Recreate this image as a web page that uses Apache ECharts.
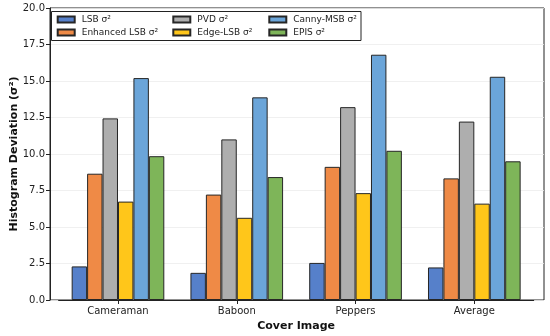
<!DOCTYPE html>
<html>
<head>
<meta charset="utf-8">
<script src="https://cdn.jsdelivr.net/npm/echarts@6/dist/echarts.min.js"></script>
<style>
html,body{margin:0;padding:0;background:#fff;}
#chart{width:550px;height:336px;}
</style>
</head>
<body>
<div id="chart"></div>
<script>
// ---- data ----
var categories = ['Cameraman', 'Baboon', 'Peppers', 'Average'];
var seriesNames = ['LSB σ²', 'Enhanced LSB σ²', 'PVD σ²', 'Edge-LSB σ²', 'Canny-MSB σ²', 'EPIS σ²'];
var lsb      = [2.30, 1.86, 2.54, 2.23];
var enhanced = [8.65, 7.22, 9.12, 8.33];
var pvd      = [12.44, 11.00, 13.21, 12.22];
var edgeLsb  = [6.74, 5.63, 7.32, 6.60];
var cannyMsb = [15.20, 13.88, 16.80, 15.29];
var epis     = [9.85, 8.42, 10.22, 9.50];
var yTicks = [0, 2.5, 5, 7.5, 10, 12.5, 15, 17.5, 20];

var seriesData = [lsb, enhanced, pvd, edgeLsb, cannyMsb, epis];
var colors = ['#5680ca', '#ef8a46', '#aeaeae', '#ffc61a', '#6ba5d9', '#7eb559'];

var font = 'DejaVu Sans';
var chart = echarts.init(document.getElementById('chart'), null, {renderer: 'canvas'});

var series = seriesNames.map(function (name, i) {
  return {
    name: name,
    type: 'bar',
    xAxisIndex: 0,
    yAxisIndex: 0,
    data: seriesData[i],
    barWidth: '13%',
    barGap: '0%',
    itemStyle: {color: colors[i], borderColor: '#262626', borderWidth: 1},
    emphasis: {disabled: true},
    animation: false
  };
});

function legendFor(names, left) {
  return {
    data: names,
    orient: 'vertical',
    left: left,
    top: 14,
    padding: 0,
    itemWidth: 17,
    itemHeight: 6,
    itemGap: 2,
    icon: 'rect',
    selectedMode: false,
    textStyle: {fontFamily: font, fontSize: 9, color: '#222', lineHeight: 11, padding: [0, 0, 0, 2]}
  };
}

chart.setOption({
  animation: false,
  backgroundColor: '#fff',
  grid: [
    {left: 58.6, right: 16.3, top: 8, bottom: 36, outerBoundsMode: 'none', containLabel: false},
    {left: 50, right: 6, top: 8, bottom: 36, outerBoundsMode: 'none', containLabel: false,
     show: true, borderColor: '#222', borderWidth: 1, backgroundColor: 'transparent'}
  ],
  xAxis: [
    {
      type: 'category', gridIndex: 0, data: categories, boundaryGap: true,
      axisLine: {show: true, lineStyle: {color: '#222', width: 1}},
      axisTick: {show: true, alignWithLabel: true, length: 4, lineStyle: {color: '#222'}},
      axisLabel: {fontFamily: font, fontSize: 10, color: '#222', margin: 6},
      name: 'Cover Image', nameLocation: 'middle', nameGap: 21, nameMoveOverlap: false,
      nameTextStyle: {fontFamily: font, fontSize: 11, fontWeight: 'bold', color: '#111'}
    },
    {
      type: 'value', gridIndex: 1, min: 0, max: 1,
      axisLine: {show: false}, axisTick: {show: false}, axisLabel: {show: false}, splitLine: {show: false}
    }
  ],
  yAxis: [
    {
      type: 'value', gridIndex: 0, min: 0, max: 20, interval: 2.5,
      axisLine: {show: false}, axisTick: {show: false}, axisLabel: {show: false}, splitLine: {show: false}
    },
    {
      type: 'value', gridIndex: 1, min: 0, max: 20, interval: 2.5, z: 0,
      axisLine: {show: true, lineStyle: {color: '#222'}},
      axisTick: {show: true, length: 4, lineStyle: {color: '#222'}},
      axisLabel: {fontFamily: font, fontSize: 10, color: '#222', margin: 5,
        formatter: function (v) { return yTicks.indexOf(v) >= 0 ? v.toFixed(1) : ''; }},
      splitLine: {show: true, lineStyle: {color: '#ececec', width: 0.8}},
      name: 'Histogram Deviation (σ²)', nameLocation: 'middle', nameRotate: 90, nameGap: 30, nameMoveOverlap: false,
      nameTextStyle: {fontFamily: font, fontSize: 11, fontWeight: 'bold', color: '#111'}
    }
  ],
  legend: [
    legendFor([seriesNames[0], seriesNames[1]], 56.7),
    legendFor([seriesNames[2], seriesNames[3]], 172.3),
    legendFor([seriesNames[4], seriesNames[5]], 268.3)
  ],
  graphic: [{
    type: 'rect', z: 3, silent: true,
    shape: {x: 51.5, y: 11.5, width: 309.5, height: 29},
    style: {fill: 'rgba(255,255,255,0.9)', stroke: '#222', lineWidth: 1}
  }],
  series: series
});
</script>
</body>
</html>
